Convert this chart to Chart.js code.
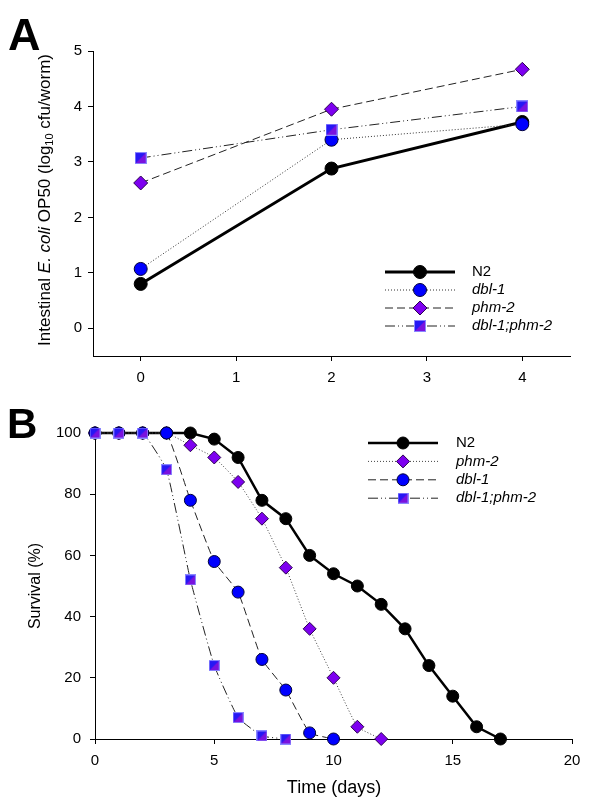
<!DOCTYPE html>
<html>
<head>
<meta charset="utf-8">
<script src="https://cdn.jsdelivr.net/npm/chart.js@4.4.1/dist/chart.umd.min.js"></script>
<style>
  body { margin: 0; background: #fff; width: 600px; height: 800px; position: relative; overflow: hidden;
         font-family: "Liberation Sans", Arial, sans-serif; }
  .panel { position: absolute; left: 0; width: 600px; height: 400px; }
  #panelA { top: 0; }
  #panelB { top: 400px; }
  .letter { position: absolute; font-family: "Liberation Sans", Arial, sans-serif; font-weight: bold; line-height: 1; }
  .title { position: absolute; white-space: nowrap; color: #000; line-height: 1; }
  .rot { transform: translate(-50%, -50%) rotate(-90deg); }
  .hor { transform: translate(-50%, -50%); }
</style>
</head>
<body>
<div class="panel" id="panelA"><canvas id="chartA" width="600" height="400"></canvas></div>
<div class="panel" id="panelB"><canvas id="chartB" width="600" height="400"></canvas></div>

<div class="letter" style="left:8px;top:12px;font-size:45px;">A</div>
<div class="letter" style="left:7px;top:403px;font-size:42px;">B</div>
<div class="title rot" style="left:45px;top:200px;font-size:17px;">Intestinal <i>E. coli</i> OP50 (log<sub style="font-size:11px;vertical-align:-3px;">10</sub> cfu/worm)</div>
<div class="title rot" style="left:35px;top:586px;font-size:16px;">Survival (%)</div>
<div class="title hor" style="left:334px;top:787px;font-size:18px;">Time (days)</div>

<script>
// Panel A: intestinal colonisation by day
const daysA = [0, 2, 4];
const n2A = [0.80, 2.88, 3.72];
const dbl1A = [1.07, 3.40, 3.68];
const phm2A = [2.62, 3.95, 4.67];
const doubleA = [3.07, 3.58, 4.00];
const xTicksA = [0, 1, 2, 3, 4];
const yTicksA = [0, 1, 2, 3, 4, 5];

// Panel B: survival curves
const n2B = [100, 100, 100, 100, 100, 98, 92, 78, 72, 60, 54, 50, 44, 36, 24, 14, 4, 0];
const phm2B = [100, 100, 100, 100, 96, 92, 84, 72, 56, 36, 20, 4, 0];
const dbl1B = [100, 100, 100, 100, 78, 58, 48, 26, 16, 2, 0];
const doubleB = [100, 100, 100, 88, 52, 24, 7, 1, 0];
const xTicksB = [0, 5, 10, 15, 20];
const yTicksB = [0, 20, 40, 60, 80, 100];

const labelsA = ['N2', 'dbl-1', 'phm-2', 'dbl-1;phm-2'];
const labelsB = ['N2', 'phm-2', 'dbl-1', 'dbl-1;phm-2'];

const DOT = [1, 2];
const DASH = [8, 4];
const DASHDOT = [10, 3, 1, 3, 1, 3];

function makeSquare(size) {
    const c = document.createElement('canvas');
    c.width = size;
    c.height = size;
    const g = c.getContext('2d');
    g.fillStyle = '#2618f4';
    g.fillRect(0, 0, size, size);
    g.fillStyle = '#7a12de';
    g.beginPath();
    g.moveTo(size, 0);
    g.lineTo(size, size);
    g.lineTo(0, size);
    g.closePath();
    g.fill();
    g.strokeStyle = '#8a86ff';
    g.lineWidth = 1;
    g.strokeRect(0.5, 0.5, size - 1, size - 1);
    return c;
}

const squareA = makeSquare(12);
const squareB = makeSquare(11);

const toXY = (xs, ys) => ys.map((v, i) => ({ x: xs[i], y: v }));
const seq = arr => arr.map((v, i) => ({ x: i, y: v }));

// legend drawn by hand: line sample with marker in the middle, then label
function makeLegend(cfg) {
    return {
        id: 'lineLegend',
        afterDraw(chart) {
            const ctx = chart.ctx;
            cfg.items.forEach((it, i) => {
                const y = cfg.y + i * cfg.rowH;
                ctx.save();
                ctx.strokeStyle = it.lineColor;
                ctx.lineWidth = it.lineWidth;
                ctx.setLineDash(it.dash);
                ctx.beginPath();
                ctx.moveTo(cfg.x0, y);
                ctx.lineTo(cfg.x1, y);
                ctx.stroke();
                ctx.setLineDash([]);
                ctx.fillStyle = it.fill;
                ctx.strokeStyle = it.border;
                ctx.lineWidth = 1;
                Chart.helpers.drawPoint(ctx, { pointStyle: it.style, radius: it.radius, rotation: 0, borderWidth: 1 },
                    (cfg.x0 + cfg.x1) / 2, y);
                ctx.fillStyle = '#000';
                ctx.font = (it.italic ? 'italic ' : '') + cfg.font;
                ctx.textBaseline = 'middle';
                ctx.fillText(it.label, cfg.textX, y);
                ctx.restore();
            });
        }
    };
}

function axisCommon(ticks, size) {
    return {
        type: 'linear',
        border: { display: true, color: '#000', width: 1 },
        grid: { drawOnChartArea: false, drawTicks: true, tickLength: 5, tickColor: '#000', tickWidth: 1 },
        ticks: { color: '#000', font: { family: '"Liberation Sans", Arial, sans-serif', size: size } },
        afterBuildTicks: s => { s.ticks = ticks.map(v => ({ value: v })); }
    };
}

// ---------- chart A ----------
const xA = axisCommon(xTicksA, 15);
xA.min = -0.5; xA.max = 4.5;
xA.ticks.padding = 8;
xA.afterFit = s => { s.height = 44; };
const yA = axisCommon(yTicksA, 15);
yA.min = -0.5; yA.max = 5;
yA.ticks.padding = 6;
yA.afterFit = s => { s.width = 93; };

new Chart(document.getElementById('chartA'), {
    type: 'line',
    data: {
        datasets: [
            { label: labelsA[3], data: toXY(daysA, doubleA), borderColor: '#222', borderWidth: 1, borderDash: DASHDOT,
              pointStyle: squareA, pointRadius: 6, order: 0 },
            { label: labelsA[1], data: toXY(daysA, dbl1A), borderColor: '#333', borderWidth: 1, borderDash: DOT,
              pointStyle: 'circle', pointRadius: 6.5, pointBackgroundColor: '#0000ff', pointBorderColor: '#00003a',
              pointBorderWidth: 1, order: 1 },
            { label: labelsA[0], data: toXY(daysA, n2A), borderColor: '#000', borderWidth: 3,
              pointStyle: 'circle', pointRadius: 6.5, pointBackgroundColor: '#000', pointBorderColor: '#000',
              pointBorderWidth: 1, order: 2 },
            { label: labelsA[2], data: toXY(daysA, phm2A), borderColor: '#222', borderWidth: 1, borderDash: DASH,
              pointStyle: 'rectRot', pointRadius: 7, pointBackgroundColor: '#7d00f0', pointBorderColor: '#2a0050',
              pointBorderWidth: 1, order: 3 }
        ]
    },
    options: {
        responsive: false,
        animation: false,
        layout: { autoPadding: false, padding: { left: 0, right: 30, top: 51, bottom: 0 } },
        elements: { line: { tension: 0, fill: false } },
        clip: false,
        plugins: { legend: { display: false }, tooltip: { enabled: false } },
        scales: { x: xA, y: yA }
    },
    plugins: [makeLegend({
        x0: 385, x1: 455, textX: 472, y: 272, rowH: 18, font: '15px "Liberation Sans", Arial, sans-serif',
        items: [
            { label: labelsA[0], italic: false, lineColor: '#000', lineWidth: 3, dash: [], style: 'circle', radius: 6.5, fill: '#000', border: '#000' },
            { label: labelsA[1], italic: true, lineColor: '#333', lineWidth: 1, dash: DOT, style: 'circle', radius: 6.5, fill: '#0000ff', border: '#00003a' },
            { label: labelsA[2], italic: true, lineColor: '#222', lineWidth: 1, dash: DASH, style: 'rectRot', radius: 7, fill: '#7d00f0', border: '#2a0050' },
            { label: labelsA[3], italic: true, lineColor: '#222', lineWidth: 1, dash: DASHDOT, style: squareA, radius: 6, fill: '#000', border: '#000' }
        ]
    })]
});

// ---------- chart B ----------
const xB = axisCommon(xTicksB, 15);
xB.min = 0; xB.max = 20;
xB.ticks.padding = 8;
xB.afterFit = s => { s.height = 61; };
const yB = axisCommon(yTicksB, 15);
yB.min = 0; yB.max = 100;
yB.ticks.padding = 9;
yB.afterFit = s => { s.width = 95; };

new Chart(document.getElementById('chartB'), {
    type: 'line',
    data: {
        datasets: [
            { label: labelsB[3], data: seq(doubleB), borderColor: '#222', borderWidth: 1, borderDash: DASHDOT,
              tension: 0.12, pointStyle: squareB, pointRadius: 5.5, order: 0 },
            { label: labelsB[2], data: seq(dbl1B), borderColor: '#222', borderWidth: 1, borderDash: DASH,
              tension: 0.12, pointStyle: 'circle', pointRadius: 6, pointBackgroundColor: '#0000ff',
              pointBorderColor: '#00003a', pointBorderWidth: 1, order: 1 },
            { label: labelsB[1], data: seq(phm2B), borderColor: '#444', borderWidth: 1, borderDash: DOT,
              tension: 0.12, pointStyle: 'rectRot', pointRadius: 6.5, pointBackgroundColor: '#7d00f0',
              pointBorderColor: '#2a0050', pointBorderWidth: 1, order: 2 },
            { label: labelsB[0], data: seq(n2B), borderColor: '#000', borderWidth: 2.5, tension: 0,
              pointStyle: 'circle', pointRadius: 6, pointBackgroundColor: '#000', pointBorderColor: '#000',
              pointBorderWidth: 1, order: 3 }
        ]
    },
    options: {
        responsive: false,
        animation: false,
        layout: { autoPadding: false, padding: { left: 0, right: 28, top: 33, bottom: 0 } },
        elements: { line: { fill: false } },
        clip: false,
        plugins: { legend: { display: false }, tooltip: { enabled: false } },
        scales: { x: xB, y: yB }
    },
    plugins: [makeLegend({
        x0: 368, x1: 438, textX: 456, y: 43, rowH: 18.4, font: '15px "Liberation Sans", Arial, sans-serif',
        items: [
            { label: labelsB[0], italic: false, lineColor: '#000', lineWidth: 2.5, dash: [], style: 'circle', radius: 6, fill: '#000', border: '#000' },
            { label: labelsB[1], italic: true, lineColor: '#444', lineWidth: 1, dash: DOT, style: 'rectRot', radius: 6.5, fill: '#7d00f0', border: '#2a0050' },
            { label: labelsB[2], italic: true, lineColor: '#222', lineWidth: 1, dash: DASH, style: 'circle', radius: 6, fill: '#0000ff', border: '#00003a' },
            { label: labelsB[3], italic: true, lineColor: '#222', lineWidth: 1, dash: DASHDOT, style: squareB, radius: 5.5, fill: '#000', border: '#000' }
        ]
    })]
});
</script>
</body>
</html>
